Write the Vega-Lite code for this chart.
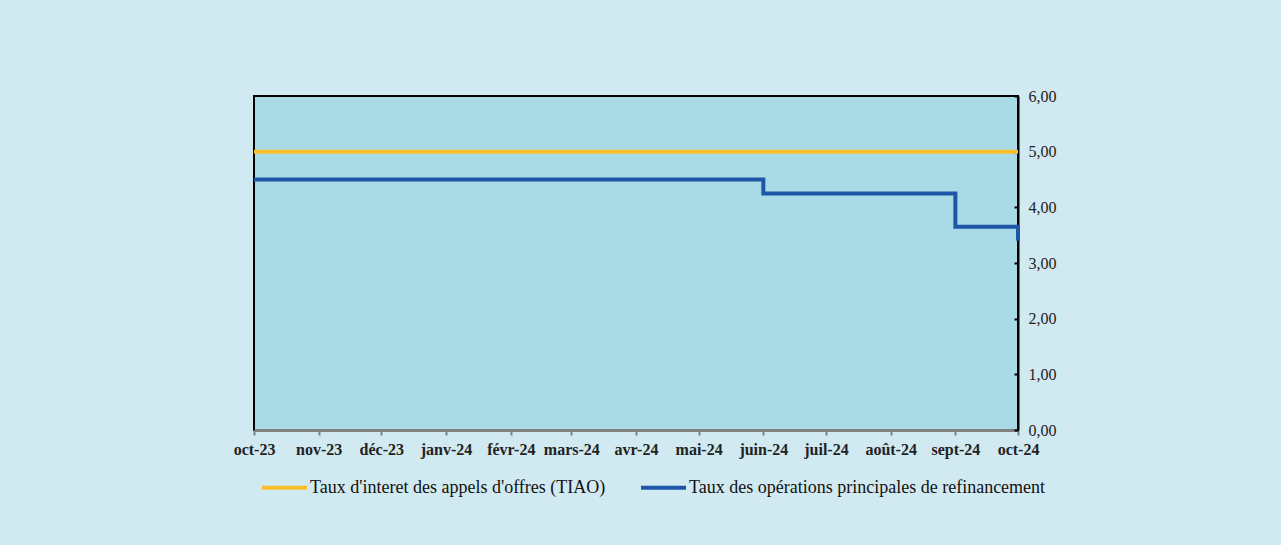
{
  "$schema": "https://vega.github.io/schema/vega-lite/v6.json",
  "width": 764,
  "height": 334,
  "autosize": {"type": "none"},
  "padding": {"left": 254, "top": 96, "right": 263, "bottom": 115},
  "background": "#D1E9F0",
  "config": {
    "font": "Liberation Serif",
    "view": {"fill": "#A8DBE5", "stroke": "#000000", "strokeWidth": 2},
    "locale": {
      "number": {"decimal": ",", "thousands": " ", "grouping": [3], "currency": ["", " €"]},
      "time": {
        "dateTime": "%A %e %B %Y à %X",
        "date": "%d/%m/%Y",
        "time": "%H:%M:%S",
        "periods": ["AM", "PM"],
        "days": ["dimanche", "lundi", "mardi", "mercredi", "jeudi", "vendredi", "samedi"],
        "shortDays": ["dim.", "lun.", "mar.", "mer.", "jeu.", "ven.", "sam."],
        "months": ["janvier", "février", "mars", "avril", "mai", "juin", "juillet", "août", "septembre", "octobre", "novembre", "décembre"],
        "shortMonths": ["janv", "févr", "mars", "avr", "mai", "juin", "juil", "août", "sept", "oct", "nov", "déc"]
      }
    }
  },
  "data": {
    "values": [
      {"date": "2023-10-01", "serie": "Taux d'interet des appels d'offres (TIAO)", "taux": 5.0},
      {"date": "2023-11-01", "serie": "Taux d'interet des appels d'offres (TIAO)", "taux": 5.0},
      {"date": "2023-12-01", "serie": "Taux d'interet des appels d'offres (TIAO)", "taux": 5.0},
      {"date": "2024-01-01", "serie": "Taux d'interet des appels d'offres (TIAO)", "taux": 5.0},
      {"date": "2024-02-01", "serie": "Taux d'interet des appels d'offres (TIAO)", "taux": 5.0},
      {"date": "2024-03-01", "serie": "Taux d'interet des appels d'offres (TIAO)", "taux": 5.0},
      {"date": "2024-04-01", "serie": "Taux d'interet des appels d'offres (TIAO)", "taux": 5.0},
      {"date": "2024-05-01", "serie": "Taux d'interet des appels d'offres (TIAO)", "taux": 5.0},
      {"date": "2024-06-01", "serie": "Taux d'interet des appels d'offres (TIAO)", "taux": 5.0},
      {"date": "2024-07-01", "serie": "Taux d'interet des appels d'offres (TIAO)", "taux": 5.0},
      {"date": "2024-08-01", "serie": "Taux d'interet des appels d'offres (TIAO)", "taux": 5.0},
      {"date": "2024-09-01", "serie": "Taux d'interet des appels d'offres (TIAO)", "taux": 5.0},
      {"date": "2024-10-01", "serie": "Taux d'interet des appels d'offres (TIAO)", "taux": 5.0},
      {"date": "2023-10-01", "serie": "Taux des opérations principales de refinancement", "taux": 4.5},
      {"date": "2023-11-01", "serie": "Taux des opérations principales de refinancement", "taux": 4.5},
      {"date": "2023-12-01", "serie": "Taux des opérations principales de refinancement", "taux": 4.5},
      {"date": "2024-01-01", "serie": "Taux des opérations principales de refinancement", "taux": 4.5},
      {"date": "2024-02-01", "serie": "Taux des opérations principales de refinancement", "taux": 4.5},
      {"date": "2024-03-01", "serie": "Taux des opérations principales de refinancement", "taux": 4.5},
      {"date": "2024-04-01", "serie": "Taux des opérations principales de refinancement", "taux": 4.5},
      {"date": "2024-05-01", "serie": "Taux des opérations principales de refinancement", "taux": 4.5},
      {"date": "2024-06-01", "serie": "Taux des opérations principales de refinancement", "taux": 4.25},
      {"date": "2024-07-01", "serie": "Taux des opérations principales de refinancement", "taux": 4.25},
      {"date": "2024-08-01", "serie": "Taux des opérations principales de refinancement", "taux": 4.25},
      {"date": "2024-09-01", "serie": "Taux des opérations principales de refinancement", "taux": 3.65},
      {"date": "2024-10-01", "serie": "Taux des opérations principales de refinancement", "taux": 3.4}
    ]
  },
  "mark": {"type": "line", "interpolate": "step-after", "strokeWidth": 4},
  "encoding": {
    "x": {
      "field": "date",
      "type": "temporal",
      "scale": {
        "type": "utc",
        "nice": false,
        "domain": [
          {"year": 2023, "month": 10, "date": 1, "utc": true},
          {"year": 2024, "month": 10, "date": 1, "utc": true}
        ]
      },
      "axis": {
        "title": null,
        "labelExpr": "utcFormat(datum.value, '%b-%y')",
        "tickCount": {"interval": "month", "step": 1},
        "grid": false,
        "domainColor": "#808080",
        "domainWidth": 3,
        "tickColor": "#808080",
        "tickWidth": 2,
        "tickSize": 5,
        "labelFontSize": 16,
        "labelFontWeight": "bold",
        "labelColor": "#222222",
        "labelPadding": 6,
        "labelFlush": false,
        "labelOverlap": false
      }
    },
    "y": {
      "field": "taux",
      "type": "quantitative",
      "scale": {"domain": [0, 6], "nice": false},
      "axis": {
        "title": null,
        "orient": "right",
        "values": [0, 1, 2, 3, 4, 5, 6],
        "format": ".2f",
        "grid": false,
        "domainColor": "#000000",
        "domainWidth": 2,
        "tickColor": "#000000",
        "tickWidth": 2,
        "tickSize": -4,
        "labelFontSize": 16,
        "labelColor": "#222222",
        "labelPadding": 14
      }
    },
    "color": {
      "field": "serie",
      "type": "nominal",
      "scale": {
        "domain": ["Taux d'interet des appels d'offres (TIAO)", "Taux des opérations principales de refinancement"],
        "range": ["#FBBF2C", "#1F57A8"]
      },
      "legend": {
        "title": null,
        "orient": "none",
        "direction": "horizontal",
        "legendX": 6,
        "legendY": 367,
        "padding": 0,
        "symbolType": "stroke",
        "symbolSize": 2025,
        "symbolStrokeWidth": 4,
        "labelFontSize": 18,
        "labelLimit": 0,
        "labelColor": "#111111",
        "labelOffset": 1,
        "columnPadding": 27
      }
    }
  }
}
